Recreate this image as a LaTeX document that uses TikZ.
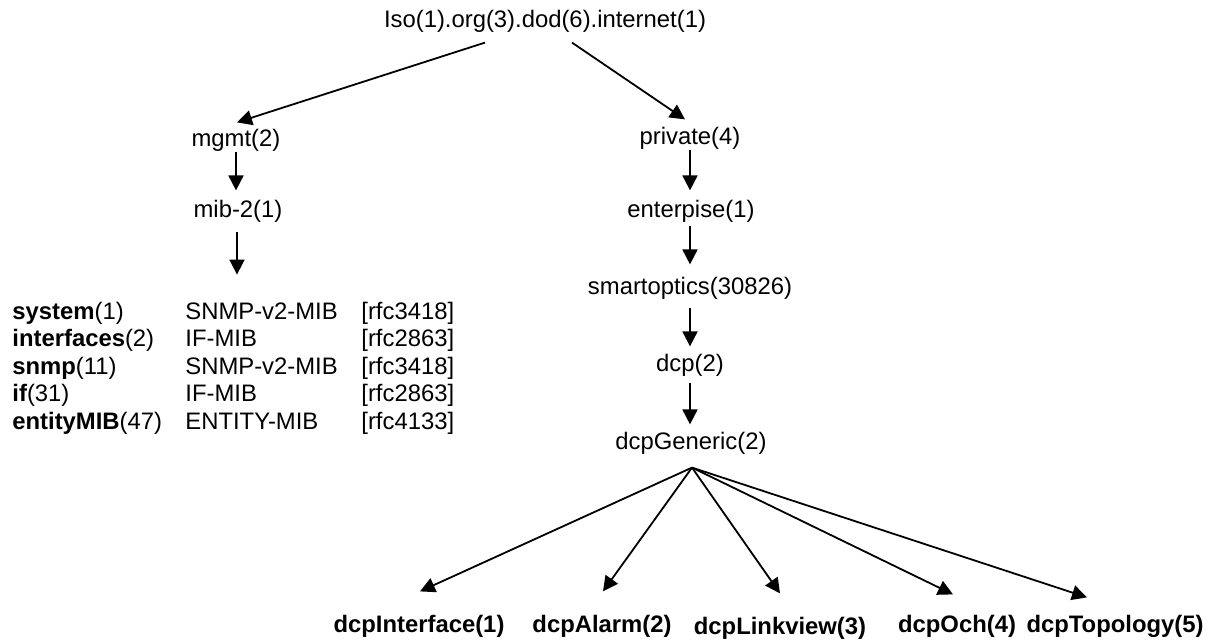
\documentclass[tikz,border=0pt]{standalone}
\usepackage{fontspec}
\setmainfont{Liberation Sans}
\usetikzlibrary{arrows.meta,calc}
\begin{document}
\begin{tikzpicture}[x=0.5pt,y=-0.5pt,
  lbl/.style={inner sep=0pt, text height=8.7pt, text depth=2.5pt, font=\fontsize{11.92}{14}\selectfont},
  bl/.style={lbl, font=\fontsize{11.92}{14}\selectfont\bfseries},
  cell/.style={lbl, anchor=west},
  arr/.style={line width=0.9pt, -{Triangle[length=7.5pt,width=7.5pt]}},
]
\useasboundingbox (0,0) rectangle (1216,641);

% tree nodes
\node[lbl] (iso) at (545,21) {Iso(1).org(3).dod(6).internet(1)};
\node[lbl] (mgmt) at (236,140) {mgmt(2)};
\node[lbl] (mib) at (238,211) {mib-2(1)};
\node[lbl] (priv) at (690,138) {private(4)};
\node[lbl] (ent) at (691,211) {enterpise(1)};
\node[lbl] (smart) at (690,288) {smartoptics(30826)};
\node[lbl] (dcp) at (690,365) {dcp(2)};
\node[lbl] (gen) at (691,443) {dcpGeneric(2)};

% leaves
\node[bl] (l1) at (419,626) {dcpInterface(1)};
\node[bl] (l2) at (602,626) {dcpAlarm(2)};
\node[bl] (l3) at (780,628) {dcpLinkview(3)};
\node[bl] (l4) at (957,626) {dcpOch(4)};
\node[bl] (l5) at (1115,626) {dcpTopology(5)};

% table
\node[cell] (r1a) at (12,313) {\textbf{system}(1)};
\node[cell] (r1b) at (185,313) {SNMP-v2-MIB};
\node[cell] (r1c) at (361,313) {[rfc3418]};
\node[cell] (r2a) at (12,340.5) {\textbf{interfaces}(2)};
\node[cell] (r2b) at (185,340.5) {IF-MIB};
\node[cell] (r2c) at (361,340.5) {[rfc2863]};
\node[cell] (r3a) at (12,368) {\textbf{snmp}(11)};
\node[cell] (r3b) at (185,368) {SNMP-v2-MIB};
\node[cell] (r3c) at (361,368) {[rfc3418]};
\node[cell] (r4a) at (12,395.5) {\textbf{if}(31)};
\node[cell] (r4b) at (185,395.5) {IF-MIB};
\node[cell] (r4c) at (361,395.5) {[rfc2863]};
\node[cell] (r5a) at (12,423) {\textbf{entityMIB}(47)};
\node[cell] (r5b) at (185,423) {ENTITY-MIB};
\node[cell] (r5c) at (361,423) {[rfc4133]};

% connectors
\draw[arr] ($(iso.south)+(-60,10)$) -- ($(mgmt.north)+(1,-6)$);
\draw[arr] ($(iso.south)+(27,10)$) -- ($(priv.north)+(-5,-7)$);
\draw[arr] (mgmt.south) -- ($(mib.north)+(-2,-9)$);
\coordinate (mibend) at ($(mib.south)+(-1,52)$);
\draw[arr] ($(mib.south)+(-1,9)$) -- (mibend);
\draw[arr] (priv.south) -- ($(ent.north)+(-1,-9)$);
\draw[arr] ($(ent.south)+(-1,3)$) -- ($(smart.north)+(0,-12)$);
\draw[arr] ($(smart.south)+(0,8)$) -- ($(dcp.north)+(0,-7)$);
\draw[arr] ($(dcp.south)+(0,6)$) -- ($(gen.north)+(-1,-7)$);

\coordinate (fan) at ($(gen.south)+(1,13)$);
\draw[arr] (fan) -- ($(l1.north)+(1,-23)$);
\draw[arr] (fan) -- ($(l2.north)+(1,-23)$);
\draw[arr] (fan) -- ($(l3.north)+(0,-23)$);
\draw[arr] (fan) -- ($(l4.north)+(-4,-20)$);
\draw[arr] (fan) -- ($(l5.north)+(-28,-17)$);
\end{tikzpicture}
\end{document}
